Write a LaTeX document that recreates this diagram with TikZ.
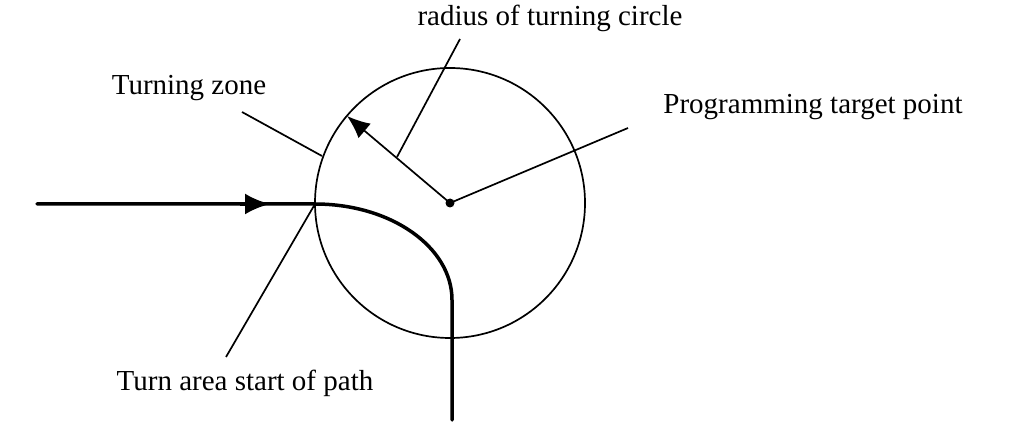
\documentclass[tikz,border=0pt]{standalone}
\usepackage{fontspec}
\setmainfont{Liberation Serif}
\usetikzlibrary{arrows.meta}
\begin{document}
\begin{tikzpicture}[x=1pt,y=-1pt,
  thinline/.style={line width=1.7pt},
  pathline/.style={line width=3.5pt},
  lbl/.style={font=\fontsize{29}{34}\selectfont, inner sep=0pt}]
\useasboundingbox (0,0) rectangle (1016,427);
\coordinate (C) at (450,203);
\draw[thinline] (C) circle (135);
\fill (C) circle (4.5);
% labels
\node[lbl] (rad) at (550,18) {radius of turning circle};
\node[lbl] (tz) at (189,88) {Turning zone};
\node[lbl] (ptp) at (813,107) {Programming target point};
\node[lbl] (tas) at (245,383) {Turn area start of path};
% leader lines
\coordinate (radtop) at (460,39);
\coordinate (radfoot) at (397,157);
\coordinate (tzend) at (242,112);
\coordinate (tzcirc) at (322,156);
\coordinate (ptpend) at (628,128);
\coordinate (S) at (315,204);
\coordinate (tasend) at (226,357);
\coordinate (rimpt) at (347,116);
\draw[thinline,-{Latex[length=23pt,width=19pt]}] (C) -- (rimpt);
\draw[thinline] (radfoot) -- (radtop);
\draw[thinline] (tzend) -- (tzcirc);
\draw[thinline] (C) -- (ptpend);
\draw[thinline] (S) -- (tasend);
% path
\coordinate (P0) at (37,204);
\coordinate (Pa0) at (240,204);
\coordinate (Pa) at (270,204);
\coordinate (Pb) at (452,300);
\coordinate (Pend) at (452,420);
\draw[pathline,line cap=round] (P0) -- (S) .. controls (391,204) and (452,247) .. (Pb) -- (Pend);
\draw[pathline,-{Latex[length=25pt,width=21pt]}] (Pa0) -- (Pa);
\end{tikzpicture}
\end{document}
